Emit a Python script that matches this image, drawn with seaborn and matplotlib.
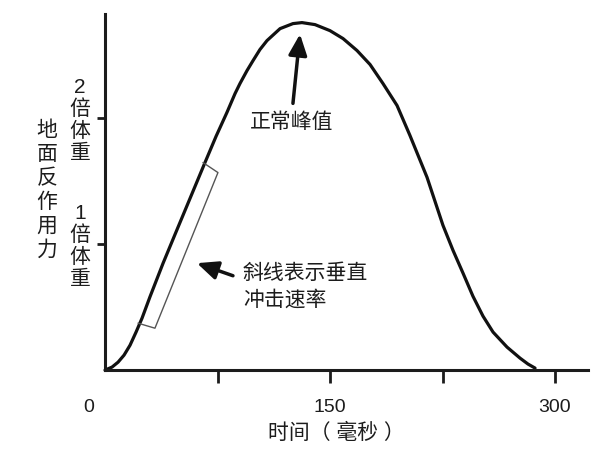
import matplotlib
matplotlib.use("Agg")
import matplotlib.pyplot as plt
import matplotlib.transforms as mtransforms
import seaborn as sns

# ground reaction force curve (time in ms, force in body weights)
time_ms = [0, 4.7, 8.7, 12.7, 16.7, 20.7, 24.7, 30, 38.7, 46.7, 56.7, 66.7, 74, 81.3,
           86.7, 90, 94.7, 98.7, 103.3, 108, 116.7, 125.3, 131.3, 140, 150, 158.7,
           168, 176.7, 185.3, 194.7, 203.3, 214.7, 225.3, 232, 238.7, 245.3, 252,
           258.7, 268, 276.7, 282, 286.7]
force_bw = [0, 0.024, 0.063, 0.119, 0.198, 0.302, 0.413, 0.583, 0.849, 1.079, 1.365, 1.651,
            1.857, 2.048, 2.198, 2.278, 2.381, 2.460, 2.548, 2.619, 2.714, 2.754, 2.762,
            2.746, 2.698, 2.635, 2.540, 2.429, 2.278, 2.103, 1.865, 1.532, 1.151, 0.952,
            0.770, 0.587, 0.429, 0.302, 0.183, 0.095, 0.048, 0.016]

x_ticks = [0, 75, 150, 225, 300]
x_tick_labels = ["0", "", "150", "", "300"]
y_ticks = [1, 2]
y_tick_labels = ["1倍体重", "2倍体重"]
y_title = "地面反作用力"

# bracket beside the loading slope
bracket_t = [65.3, 75.3, 33.3, 22]
bracket_f = [1.65, 1.57, 0.333, 0.373]

sns.set_theme(style="white")
plt.rcParams["font.family"] = ["Liberation Sans", "Noto Sans CJK SC", "DejaVu Sans"]
ink = "#1c1c1c"

fig = plt.figure(figsize=(6, 4.53), dpi=100)
ax = fig.add_axes([0.175, 0.183, 0.805, 0.786])

sns.lineplot(x=time_ms, y=force_bw, ax=ax, color="#111111", linewidth=2.3)
ax.lines[0].set_clip_on(False)
ax.lines[0].set_solid_joinstyle("round")
ax.plot(bracket_t, bracket_f, color="#555555", linewidth=1.0)

ax.set_xlim(0, 322)
ax.set_ylim(0, 2.83)
for side in ["top", "right"]:
    ax.spines[side].set_visible(False)
for side in ["left", "bottom"]:
    ax.spines[side].set_linewidth(2.2)
    ax.spines[side].set_color(ink)

ax.set_xticks(x_ticks, labels=x_tick_labels, fontsize=14, color=ink)
ax.tick_params(axis="x", direction="out", length=9, width=2, color=ink, pad=12, bottom=True)
ax.xaxis.get_major_ticks()[0].tick1line.set_visible(False)
shift = mtransforms.ScaledTranslation(-16 / 100, 0, fig.dpi_scale_trans)
zero_lab = ax.get_xticklabels()[0]
zero_lab.set_transform(zero_lab.get_transform() + shift)

# y ticks with vertically stacked labels, one character per line
ax.set_yticks(y_ticks, labels=["", ""])
ax.tick_params(axis="y", direction="out", length=6, width=2, color=ink, left=True)
char_offsets = [31, 9, -13, -35]  # pixels relative to tick, upward positive
for val, lab in zip(y_ticks, y_tick_labels):
    for ch, off in zip(lab, char_offsets):
        ax.annotate(ch, xy=(0, val), xycoords=ax.get_yaxis_transform(),
                    xytext=(-25 * 0.72, off * 0.72), textcoords="offset points",
                    fontsize=15, color=ink, ha="center", va="center")

# y axis title, stacked vertically
for i, ch in enumerate(y_title):
    ypix = 130 + i * 24
    ax.annotate(ch, xy=(0, 0), xycoords="axes fraction",
                xytext=(-58 * 0.72, (370 - ypix) * 0.72), textcoords="offset points",
                fontsize=15, color=ink, ha="center", va="center")

ax.set_xlabel("时间（ 毫秒 ）", fontsize=15, color=ink, va="center")
ax.xaxis.set_label_coords(0.48, -0.177)

arrow_kw = dict(arrowstyle="-|>,head_length=0.9,head_width=0.4", color="#111111",
                lw=2.5, shrinkA=0, shrinkB=0, mutation_scale=14)
ax.annotate("", xy=(130, 2.67), xytext=(125.3, 2.12), arrowprops=arrow_kw)
ax.text(124.7, 1.97, "正常峰值", fontsize=15, color=ink, ha="center", va="center")

ax.annotate("", xy=(61.3, 0.85), xytext=(85.3, 0.75), arrowprops=arrow_kw)
ax.text(92, 0.77, "斜线表示垂直", fontsize=15, color=ink, ha="left", va="center")
ax.text(92, 0.556, "冲击速率", fontsize=15, color=ink, ha="left", va="center")

fig.savefig("out.png", dpi=100)
